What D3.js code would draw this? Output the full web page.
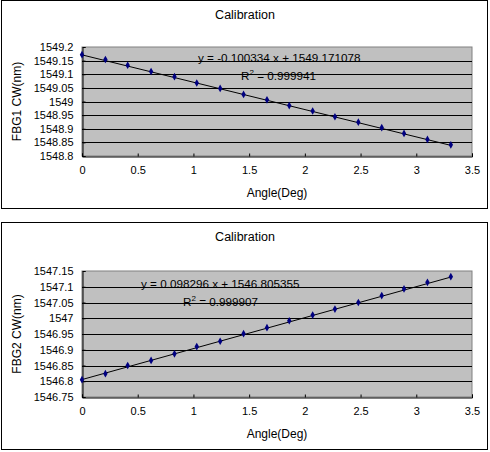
<!DOCTYPE html>
<html lang="en">
  <head>
    <meta charset="UTF-8" />
    <title>Calibration</title>
    <script src="https://d3js.org/d3.v7.min.js"></script>
    <style>
      body {
        margin: 0;
        background: #fff;
        font-family: "Liberation Sans", Arial, sans-serif;
      }
      svg text {
        fill: #000;
      }
    </style>
  </head>
  <body>
    <div id="chart"></div>
    <script>
      // angle values (deg), same for both sensors
      const angles = [0, 0.21, 0.41, 0.62, 0.83, 1.03, 1.24, 1.45, 1.66, 1.86, 2.07, 2.27, 2.48, 2.69, 2.89, 3.1, 3.31];

      const fbg1 = [1549.172, 1549.154, 1549.133, 1549.110, 1549.091, 1549.068, 1549.048, 1549.026,
        1549.006, 1548.985, 1548.965, 1548.944, 1548.924, 1548.904, 1548.883, 1548.861, 1548.841];
      const fbg2 = [1546.805, 1546.824, 1546.850, 1546.866, 1546.887, 1546.910, 1546.927, 1546.951,
        1546.970, 1546.992, 1547.010, 1547.029, 1547.050, 1547.072, 1547.093, 1547.114, 1547.132];

      const xTicks = [0, 0.5, 1, 1.5, 2, 2.5, 3, 3.5];
      const yTicks1 = [1548.8, 1548.85, 1548.9, 1548.95, 1549, 1549.05, 1549.1, 1549.15, 1549.2];
      const yTicks2 = [1546.75, 1546.8, 1546.85, 1546.9, 1546.95, 1547, 1547.05, 1547.1, 1547.15];

      // fitted trendlines as printed on the chart
      const fit1 = { slope: -0.100334, intercept: 1549.171078, r2: "0.999941" };
      const fit2 = { slope: 0.098296, intercept: 1546.805355, r2: "0.999907" };

      const svg = d3.select("#chart").append("svg").attr("width", 490).attr("height", 452);

      function drawPanel(cfg) {
        const g = svg.append("g");

        // chart frame
        g.append("rect")
          .attr("x", 1.5).attr("y", cfg.top + 0.5)
          .attr("width", 486).attr("height", cfg.h)
          .attr("fill", "#fff").attr("stroke", "#000");

        const x = d3.scaleLinear().domain([0, 3.5]).range([82, 472]);
        const y = d3.scaleLinear().domain(cfg.domain).range([cfg.plotBottom, cfg.plotTop]);

        // plot area
        g.append("rect")
          .attr("x", 82).attr("y", cfg.plotTop)
          .attr("width", 390).attr("height", cfg.plotBottom - cfg.plotTop)
          .attr("fill", "#c0c0c0").attr("stroke", "#808080");

        // gridlines
        g.selectAll(".grid")
          .data(cfg.yTicks.slice(1, -1))
          .join("line")
          .attr("x1", 82).attr("x2", 472)
          .attr("y1", d => Math.round(y(d)) + 0.5).attr("y2", d => Math.round(y(d)) + 0.5)
          .attr("stroke", "#000");

        // axes
        const xAxis = d3.axisBottom(x).tickValues(xTicks).tickSize(-3).tickPadding(10)
          .tickFormat(d3.format("~g"));
        const gx = g.append("g")
          .attr("transform", `translate(0,${Math.round(cfg.plotBottom) + 0.5})`)
          .call(xAxis);
        gx.select(".domain").attr("stroke", "#000");
        gx.selectAll("text").attr("font-size", 11).attr("font-family", "Liberation Sans, Arial");

        const yAxis = d3.axisLeft(y).tickValues(cfg.yTicks).tickSize(-3).tickPadding(9)
          .tickFormat(d3.format("~f"));
        const gy = g.append("g").attr("transform", "translate(82.5,0)").call(yAxis);
        gy.select(".domain").attr("stroke", "#000");
        gy.selectAll("text").attr("font-size", 11).attr("font-family", "Liberation Sans, Arial");

        // trendline
        g.append("line")
          .attr("x1", x(0)).attr("y1", y(cfg.fit.intercept))
          .attr("x2", x(angles[angles.length - 1]))
          .attr("y2", y(cfg.fit.intercept + cfg.fit.slope * angles[angles.length - 1]))
          .attr("stroke", "#000").attr("stroke-width", 1);

        // markers
        g.selectAll(".pt")
          .data(cfg.values)
          .join("path")
          .attr("d", d3.symbol(d3.symbolDiamond, 17))
          .attr("transform", (d, i) => `translate(${x(angles[i])},${y(d)})`)
          .attr("fill", "#000080");

        // titles
        g.append("text")
          .attr("x", 245).attr("y", cfg.top + 19)
          .attr("text-anchor", "middle").attr("font-size", 12.5)
          .text("Calibration");
        g.append("text")
          .attr("x", 277).attr("y", cfg.plotBottom + 41)
          .attr("text-anchor", "middle").attr("font-size", 12)
          .text("Angle(Deg)");
        g.append("text")
          .attr("transform", `translate(21,${(cfg.plotTop + cfg.plotBottom) / 2}) rotate(-90)`)
          .attr("text-anchor", "middle").attr("font-size", 12)
          .text(cfg.yLabel);

        // equation labels
        const sign = cfg.fit.slope < 0 ? "-" : "";
        g.append("text")
          .attr("x", cfg.eqX).attr("y", cfg.eqY)
          .attr("font-size", 11.7)
          .text(`y = ${sign}${Math.abs(cfg.fit.slope)} x + ${cfg.fit.intercept}`);
        const r = g.append("text")
          .attr("x", cfg.r2X).attr("y", cfg.eqY + 18)
          .attr("font-size", 11.7);
        r.append("tspan").text("R");
        r.append("tspan").attr("font-size", 8).attr("dy", -5).text("2");
        r.append("tspan").attr("dy", 5).text(` = ${cfg.fit.r2}`);
      }

      drawPanel({
        top: 0, h: 208, plotTop: 47, plotBottom: 156,
        domain: [1548.8, 1549.2], yTicks: yTicks1, values: fbg1, fit: fit1,
        yLabel: "FBG1 CW(nm)", eqX: 198, eqY: 62, r2X: 241
      });
      drawPanel({
        top: 222, h: 227, plotTop: 271, plotBottom: 397,
        domain: [1546.75, 1547.15], yTicks: yTicks2, values: fbg2, fit: fit2,
        yLabel: "FBG2 CW(nm)", eqX: 141, eqY: 288, r2X: 183
      });
    </script>
  </body>
</html>
